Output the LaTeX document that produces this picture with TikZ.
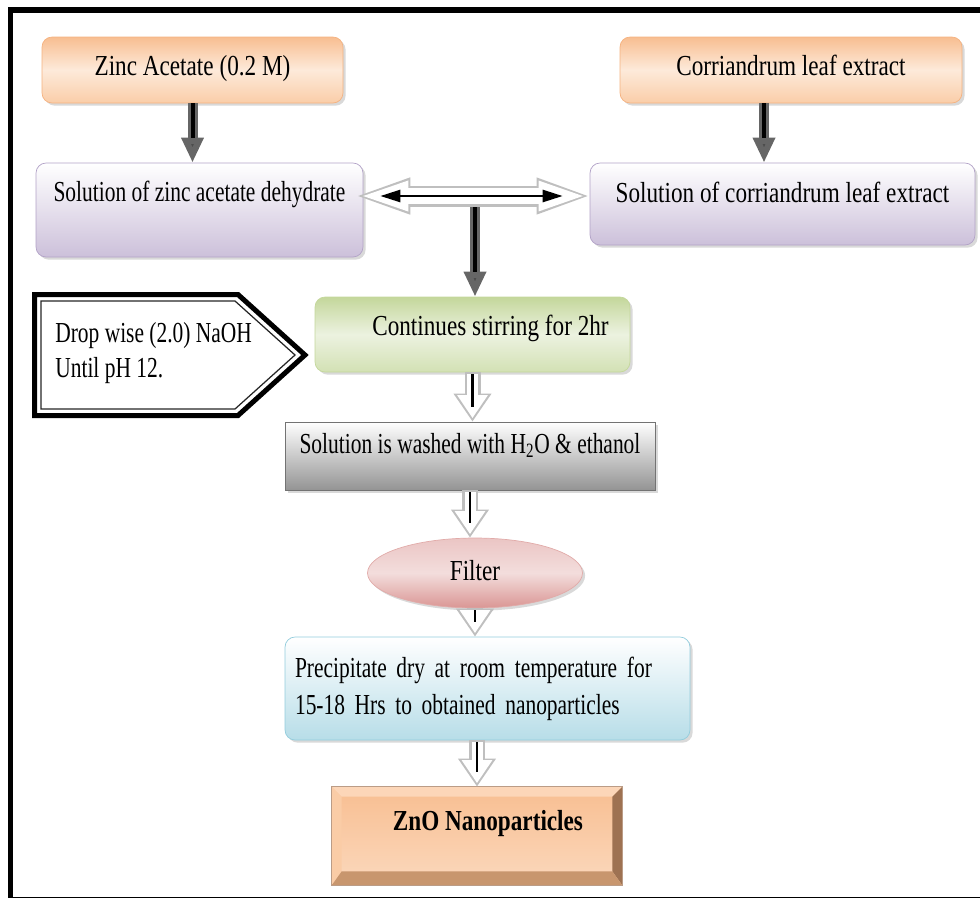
\documentclass[tikz,border=0pt]{standalone}
\usepackage{fontspec}
\setmainfont{Liberation Serif}[FakeStretch=0.8]
\newfontfamily\tightfont{Liberation Serif}[FakeStretch=0.74]
\usepackage{tikz}
\usetikzlibrary{arrows.meta,calc,shadows,shapes.geometric,positioning}

\definecolor{peachtop}{RGB}{248,190,145}
\definecolor{peachmid}{RGB}{253,234,218}
\definecolor{peachbot}{RGB}{250,205,168}
\definecolor{peachline}{RGB}{245,178,128}
\definecolor{lilac}{RGB}{204,192,218}
\definecolor{lilacline}{RGB}{178,162,199}
\definecolor{leaf}{RGB}{196,215,155}
\definecolor{leaflight}{RGB}{236,242,224}
\definecolor{rose}{RGB}{218,150,148}
\definecolor{roselight}{RGB}{243,221,220}
\definecolor{sky}{RGB}{183,221,232}
\definecolor{skyline}{RGB}{147,205,221}
\definecolor{bevtop}{RGB}{252,214,184}
\definecolor{bevleft}{RGB}{250,204,166}
\definecolor{bevright}{RGB}{158,114,82}
\definecolor{bevbot}{RGB}{200,150,110}

\tikzset{
	box/.style={rectangle, inner sep=0pt, rounded corners=0.2cm,
		drop shadow={shadow xshift=1.5pt, shadow yshift=-1.5pt, opacity=0.3}},
	orangebox/.style={box, draw=peachline, top color=peachtop, bottom color=peachbot, middle color=peachmid,
		minimum height=1.32cm, text height=0.76cm, text depth=0.56cm},
	lilacbox/.style={box, draw=lilacline, top color=white, bottom color=lilac},
	greenbox/.style={box, draw=leaf, top color=leaf, bottom color=leaf!75, middle color=leaflight,
		minimum width=6.3cm, minimum height=1.5cm, text height=0.76cm, text depth=0.74cm},
	greybox/.style={box, rounded corners=0pt, draw=black!55, top color=white, bottom color=black!42,
		minimum width=7.4cm, minimum height=1.36cm, text height=0.62cm, text depth=0.74cm,
		font=\fontsize{16.5}{20}\tightfont},
	pinkoval/.style={ellipse, inner sep=0pt, draw=rose!80, top color=rose!55, bottom color=rose, middle color=roselight,
		drop shadow={shadow xshift=1.5pt, shadow yshift=-1.5pt, opacity=0.3},
		minimum width=4.3cm, minimum height=1.4cm, text height=0.5cm, text depth=0.22cm},
	bluebox/.style={box, draw=skyline, top color=white, bottom color=sky,
		minimum width=8.1cm, minimum height=2.06cm, text width=7.7cm, align=left,
		text height=0.8cm, text depth=1.26cm, font=\fontsize{16.5}{21.6}\tightfont},
	bevelbox/.style={rectangle, inner sep=0pt, draw=bevright!70, top color=peachtop, bottom color=peachmid!60!peachtop,
		minimum width=5.8cm, minimum height=1.96cm, text height=0.86cm, text depth=1.1cm, font=\fontsize{16.5}{20}\bfseries},
	darkarrow/.style={draw=black!60, line width=0.2cm, -{Triangle[length=0.5cm,width=0.42cm,fill=black!70]},
		postaction={draw=black, line width=0.08cm, shorten >=0.5cm, -}},
	hollowarrow/.style={draw=white, line width=0.22cm, shorten >=0.07cm, shorten <=0.04cm,
		-{Triangle[length=0.46cm,width=0.58cm]},
		preaction={draw=black!25, line width=0.32cm, shorten >=0cm, shorten <=0cm, -{Triangle[length=0.56cm,width=0.72cm]}},
		postaction={draw=black, line width=0.05cm, shorten >=0.3cm, shorten <=0.04cm, -}},
	hollowpair/.style={draw=white, line width=0.32cm, shorten <=-0.14cm, shorten >=0.02cm,
		{Triangle[length=1.04cm,width=0.52cm]}-{Triangle[length=1.0cm,width=0.52cm]},
		preaction={draw=black!25, line width=0.42cm, shorten <=-0.22cm, shorten >=-0.06cm,
			{Triangle[length=1.16cm,width=0.64cm]}-{Triangle[length=1.12cm,width=0.64cm]}},
		postaction={draw=black, line width=0.05cm, shorten <=0.34cm, shorten >=0.54cm,
			{Triangle[length=0.4cm,width=0.24cm]}-{Triangle[length=0.4cm,width=0.24cm]}}}
}

\begin{document}
\begin{tikzpicture}[x=0.02cm,y=-0.02cm,
		font=\fontsize{16.5}{20}\selectfont
	]
	\clip (0,0) rectangle (980,897);
	% frame
	\draw[line width=0.12cm] (10.5,10) rectangle (1000,899.5);

	\node[orangebox, minimum width=6.02cm] (za) at (192.5,70) {Zinc Acetate (0.2 M)};
	\node[orangebox, minimum width=6.84cm] (ca) at (791,70) {Corriandrum leaf extract};
	\node[lilacbox, minimum width=6.54cm, minimum height=1.88cm, text height=0.76cm, text depth=1.12cm,
		font=\fontsize{16.5}{20}\tightfont] (sz) at (199.5,210) {Solution of zinc acetate dehydrate};
	\node[lilacbox, minimum width=7.7cm, minimum height=1.64cm, text height=0.78cm, text depth=0.86cm] (sc) at (782.5,204) {Solution of corriandrum leaf extract};
	\node[greenbox] (st) at (472.5,334.5) {\hspace*{0.72cm}Continues stirring for 2hr};
	\node[greybox] (ws) at (470,456) {Solution is washed with H\textsubscript{2}O \& ethanol};
	\node[pinkoval] (fi) at (475,573) {Filter};
	\node[bluebox] (pr) at (487.5,688.5) {Precipitate dry at room temperature for\\15-18 Hrs to obtained nanoparticles};
	\node[bevelbox] (zn) at (477,836) {\hspace*{0.44cm}ZnO Nanoparticles};

	% bevel of the last box
	\fill[bevleft] (zn.north west) -- ([xshift=0.2cm,yshift=-0.2cm]zn.north west) -- ([xshift=0.2cm,yshift=0.28cm]zn.south west) -- (zn.south west) -- cycle;
	\fill[bevtop] (zn.north west) -- (zn.north east) -- ([xshift=-0.2cm,yshift=-0.2cm]zn.north east) -- ([xshift=0.2cm,yshift=-0.2cm]zn.north west) -- cycle;
	\fill[bevright] (zn.north east) -- (zn.south east) -- ([xshift=-0.2cm,yshift=0.28cm]zn.south east) -- ([xshift=-0.2cm,yshift=-0.2cm]zn.north east) -- cycle;
	\fill[bevbot] (zn.south west) -- (zn.south east) -- ([xshift=-0.2cm,yshift=0.28cm]zn.south east) -- ([xshift=0.2cm,yshift=0.28cm]zn.south west) -- cycle;
	\draw[bevright!70] (zn.north west) rectangle (zn.south east);

	% NaOH pointer
	\draw[line width=0.1cm, line join=miter] (34.5,294.5) -- (238,294.5) -- (305,355) -- (238,415.5) -- (34.5,415.5) -- cycle;
	\draw[line width=0.025cm, black!85] (41,301) -- (235,301) -- (295,355) -- (235,409) -- (41,409) -- cycle;
	\node[anchor=base west, align=left, inner sep=0pt, font=\fontsize{16.5}{19.9}\tightfont] (nh) at (55,377) {Drop wise (2.0) NaOH\\Until pH 12.};

	\coordinate (dbl) at (475,196);
	\coordinate (cdrop) at ($(ca.south)+(-27,0)$);
	\path
		(za.south) edge[darkarrow] (za.south |- sz.north)
		(cdrop) edge[darkarrow] (cdrop |- sc.north)
		(dbl) edge[darkarrow] (dbl |- st.north)
	;
	\path
		(sz.east |- dbl) edge[hollowpair] (sc.west |- dbl)
		(st.south) edge[hollowarrow] (st.south |- ws.north)
		(ws.south) edge[hollowarrow] (ws.south |- fi.north)
		(fi.south) edge[hollowarrow] (fi.south |- pr.north)
		(zn.north |- pr.south) edge[hollowarrow] (zn.north)
	;
\end{tikzpicture}
\end{document}
